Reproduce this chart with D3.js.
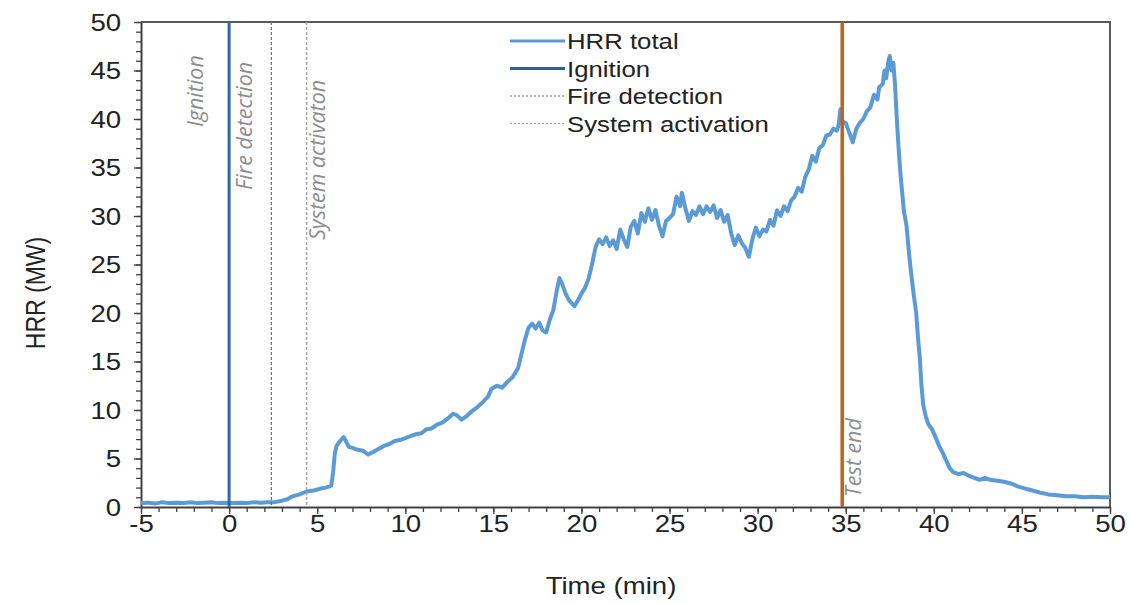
<!DOCTYPE html>
<meta charset="utf-8">
<style>
body { margin: 0; background: #fff; }
.tick text { font-family: "Liberation Sans", Arial, sans-serif; font-size: 23px; fill: #222; }
.axis path, .axis line { stroke: #404040; }
</style>
<body>
<script src="https://cdn.jsdelivr.net/npm/d3@7"></script>
<script>

// HRR total, [time (min), HRR (MW)]
var hrrTotal = [
  [-5,0.4],[-4.6,0.45],[-4.2,0.35],[-3.8,0.5],[-3.4,0.4],[-3,0.45],[-2.6,0.4],[-2.2,0.5],[-1.8,0.4],[-1.4,0.45],
  [-1,0.5],[-0.6,0.4],[-0.2,0.45],[0.2,0.4],[0.6,0.45],[1,0.4],[1.4,0.5],[1.8,0.45],[2.2,0.5],[2.6,0.5],
  [3,0.65],[3.3,0.8],[3.6,1.1],[4,1.3],[4.4,1.6],[4.8,1.7],[5.2,1.9],[5.5,2.0],[5.8,2.2],[5.9,3.5],
  [6.0,5.5],[6.1,6.3],[6.3,6.8],[6.5,7.2],[6.6,6.9],[6.8,6.2],[7.0,6.1],[7.3,5.9],[7.6,5.8],[7.9,5.4],
  [8.2,5.7],[8.5,6.0],[8.8,6.3],[9.1,6.5],[9.4,6.8],[9.7,6.9],[10.0,7.1],[10.3,7.3],[10.6,7.5],[10.9,7.6],
  [11.2,8.0],[11.5,8.1],[11.8,8.5],[12.1,8.7],[12.4,9.1],[12.7,9.6],[12.9,9.5],[13.2,9.0],[13.5,9.4],[13.8,9.9],
  [14.1,10.3],[14.4,10.8],[14.7,11.4],[14.9,12.2],[15.2,12.5],[15.5,12.3],[15.8,12.9],[16.1,13.4],[16.4,14.3],[16.6,15.8],
  [16.8,17.3],[17.0,18.5],[17.2,18.9],[17.4,18.4],[17.6,19.0],[17.8,18.2],[18.0,18.0],[18.2,19.3],[18.4,20.3],[18.6,22.3],
  [18.75,23.6],[18.9,23.0],[19.1,22.0],[19.3,21.3],[19.6,20.7],[19.8,21.3],[20.0,22.0],[20.2,22.6],[20.4,23.5],[20.6,25.0],
  [20.8,26.8],[21.0,27.6],[21.2,27.1],[21.4,27.8],[21.6,26.9],[21.8,27.5],[22.0,26.6],[22.2,28.6],[22.4,27.6],[22.6,26.8],
  [22.8,28.9],[23.0,29.5],[23.2,28.2],[23.4,30.3],[23.6,29.4],[23.8,30.8],[24.0,29.6],[24.2,30.6],[24.4,29.0],[24.6,27.9],
  [24.8,29.5],[25.0,29.8],[25.2,30.2],[25.4,32.0],[25.6,31.0],[25.7,32.4],[25.9,30.8],[26.1,29.5],[26.3,30.5],[26.5,30.1],
  [26.7,31.0],[26.9,30.2],[27.1,31.0],[27.3,30.4],[27.5,31.1],[27.7,29.8],[27.9,30.6],[28.1,29.4],[28.3,30.1],[28.5,28.2],
  [28.7,27.0],[28.9,28.0],[29.1,27.2],[29.3,26.7],[29.5,25.8],[29.7,27.6],[29.9,28.8],[30.1,27.9],[30.3,28.6],[30.5,28.4],
  [30.7,29.6],[30.9,29.0],[31.1,30.6],[31.3,30.0],[31.5,31.0],[31.7,30.5],[31.9,31.6],[32.1,32.0],[32.3,32.9],[32.5,32.5],
  [32.7,34.0],[32.9,34.8],[33.1,36.2],[33.3,35.6],[33.5,37.0],[33.7,37.3],[33.9,38.3],[34.1,38.4],[34.3,39.0],[34.5,38.8],
  [34.6,39.4],[34.7,41.0],[34.8,39.8],[35.0,39.6],[35.2,38.6],[35.4,37.6],[35.6,39.0],[35.8,39.6],[36.0,40.0],[36.2,40.8],
  [36.4,41.2],[36.6,42.5],[36.8,42.0],[36.9,43.3],[37.1,43.6],[37.2,45.0],[37.3,44.2],[37.4,45.8],[37.5,46.5],[37.6,45.0],
  [37.7,45.8],[37.8,43.5],[37.9,40.0],[38.0,37.0],[38.1,34.5],[38.2,32.5],[38.3,30.5],[38.45,29.0],[38.6,26.0],[38.7,24.3],
  [38.85,22.0],[39.0,20.0],[39.1,17.5],[39.2,15.5],[39.3,12.5],[39.4,10.5],[39.55,9.3],[39.7,8.5],[39.9,8.0],[40.1,7.2],
  [40.3,6.3],[40.5,5.6],[40.7,4.8],[40.9,4.0],[41.1,3.6],[41.4,3.4],[41.7,3.5],[42.0,3.2],[42.3,3.0],[42.6,2.8],
  [42.9,3.0],[43.2,2.8],[43.6,2.7],[44.0,2.6],[44.4,2.4],[44.8,2.1],[45.2,1.9],[45.6,1.7],[46.0,1.5],[46.5,1.3],
  [47.0,1.2],[47.5,1.1],[48.0,1.1],[48.5,1.0],[49.0,1.05],[49.5,1.0],[50.0,1.0]
];

// event times (min)
var eventNames = ["Ignition", "Fire detection", "System activaton", "Test end"];
var eventTimes = [0, 2.4, 4.4, 34.8];

var legendLabels = ["HRR total", "Ignition", "Fire detection", "System activation"];

var xTicks = [-5, 0, 5, 10, 15, 20, 25, 30, 35, 40, 45, 50];
var yTicks = [0, 5, 10, 15, 20, 25, 30, 35, 40, 45, 50];

var margin = {top: 22, right: 19, bottom: 98, left: 141},
    width = 1129 - margin.left - margin.right,
    height = 605 - margin.top - margin.bottom;

// text in the original is a bit wider than Arial
var stretch = "scale(1.2,1)";
var legendStretch = "scale(1.12,1)";

var x = d3.scaleLinear().domain([-5, 50]).range([0, width]);
var y = d3.scaleLinear().domain([0, 50]).range([height, 0]);

var svg = d3.select("body").append("svg")
    .attr("width", 1129)
    .attr("height", 605)
  .append("g")
    .attr("transform", "translate(" + margin.left + "," + margin.top + ")");

// frame (top and right)
svg.append("path")
    .attr("d", "M0,0H" + width + "V" + height)
    .attr("fill", "none")
    .attr("stroke", "#595959")
    .attr("stroke-width", 2);

// minor ticks
svg.append("g")
    .attr("class", "axis")
    .attr("transform", "translate(0," + height + ")")
    .call(d3.axisBottom(x).tickValues(d3.range(-5, 51, 1)).tickSize(5).tickFormat(""))
    .call(function(g) { g.select(".domain").remove(); })
    .selectAll("line").attr("stroke-width", 1.3);
svg.append("g")
    .attr("class", "axis")
    .call(d3.axisLeft(y).tickValues(d3.range(0, 51, 1)).tickSize(5).tickFormat(""))
    .call(function(g) { g.select(".domain").remove(); })
    .selectAll("line").attr("stroke-width", 1.3);

// major ticks and labels
var xAxis = svg.append("g")
    .attr("class", "axis")
    .attr("transform", "translate(0," + height + ")")
    .call(d3.axisBottom(x).tickValues(xTicks).tickSize(7).tickPadding(2).tickSizeOuter(0)
      .tickFormat(function(d) { return String(d); }));
xAxis.select(".domain").attr("stroke-width", 2);
xAxis.selectAll("line").attr("stroke-width", 1.3);
xAxis.selectAll("text").attr("transform", stretch);

var yAxis = svg.append("g")
    .attr("class", "axis")
    .call(d3.axisLeft(y).tickValues(yTicks).tickSize(7).tickSizeOuter(0));
yAxis.select(".domain").attr("stroke-width", 2);
yAxis.selectAll("line").attr("stroke-width", 1.3);
yAxis.selectAll("text").attr("x", -16.5).attr("dy", "0.36em").attr("transform", stretch);

// axis titles
svg.append("text")
    .attr("transform", "translate(" + (611 - margin.left) + "," + (594 - margin.top) + ") " + stretch)
    .attr("text-anchor", "middle")
    .style("font-family", "Liberation Sans, Arial, sans-serif")
    .style("font-size", "23px")
    .attr("fill", "#222")
    .text("Time (min)");

svg.append("text")
    .attr("transform", "translate(" + (45 - margin.left) + "," + (293 - margin.top) + ") " + stretch + " rotate(-90)")
    .attr("text-anchor", "middle")
    .style("font-family", "Liberation Sans, Arial, sans-serif")
    .style("font-size", "23px")
    .attr("fill", "#222")
    .text("HRR (MW)");

// event lines
var lineStyles = [
  {stroke: "#2E6AAB", w: 3, dash: null},
  {stroke: "#6E6E6E", w: 1.2, dash: "3,2"},
  {stroke: "#A6A6A6", w: 1.5, dash: "3,2"},
  {stroke: "#C0611F", w: 3.5, dash: null}
];

// HRR curve (drawn under the ignition / test end lines)
var valueline = d3.line()
    .x(function(d) { return x(d[0]); })
    .y(function(d) { return y(d[1]); });

svg.append("path")
    .datum(hrrTotal)
    .attr("fill", "none")
    .attr("stroke", "#5B9BD5")
    .attr("stroke-width", 4)
    .attr("stroke-linejoin", "round")
    .attr("d", valueline);

eventTimes.forEach(function(t, i) {
  var s = lineStyles[i];
  svg.append("line")
      .attr("x1", x(t)).attr("x2", x(t))
      .attr("y1", 0).attr("y2", height)
      .attr("stroke", s.stroke)
      .attr("stroke-width", s.w)
      .attr("stroke-dasharray", s.dash);
});

// rotated event annotations
var annotDx = [-26, -19.5, 18.5, 19];
var annotY = [105, 168, 218, 475];
eventNames.forEach(function(name, i) {
  svg.append("text")
      .attr("transform", "translate(" + (x(eventTimes[i]) + annotDx[i]) + "," + annotY[i] + ") rotate(-90)")
      .style("font-family", "Open Sans, sans-serif")
      .style("font-style", "italic")
      .style("font-size", "21.5px")
      .attr("fill", "#8C8C8C")
      .text(name);
});

// legend
var legendStyles = [
  {stroke: "#5B9BD5", w: 3, dash: null},
  {stroke: "#2F5F98", w: 3, dash: null},
  {stroke: "#6E6E6E", w: 1, dash: "2,2"},
  {stroke: "#A6A6A6", w: 1, dash: "2,2"}
];
var legend = svg.append("g").attr("transform", "translate(" + (510 - margin.left) + "," + (41 - margin.top) + ")");
legendLabels.forEach(function(lab, i) {
  var s = legendStyles[i];
  var row = legend.append("g").attr("transform", "translate(0," + (i * 27.5) + ")");
  row.append("line")
      .attr("x1", 0).attr("x2", 55)
      .attr("stroke", s.stroke)
      .attr("stroke-width", s.w)
      .attr("stroke-dasharray", s.dash);
  row.append("text")
      .attr("transform", "translate(57,0) " + legendStretch)
      .attr("dy", "0.36em")
      .style("font-family", "Liberation Sans, Arial, sans-serif")
      .style("font-size", "23px")
      .attr("fill", "#222")
      .text(lab);
});

</script>
</body>
